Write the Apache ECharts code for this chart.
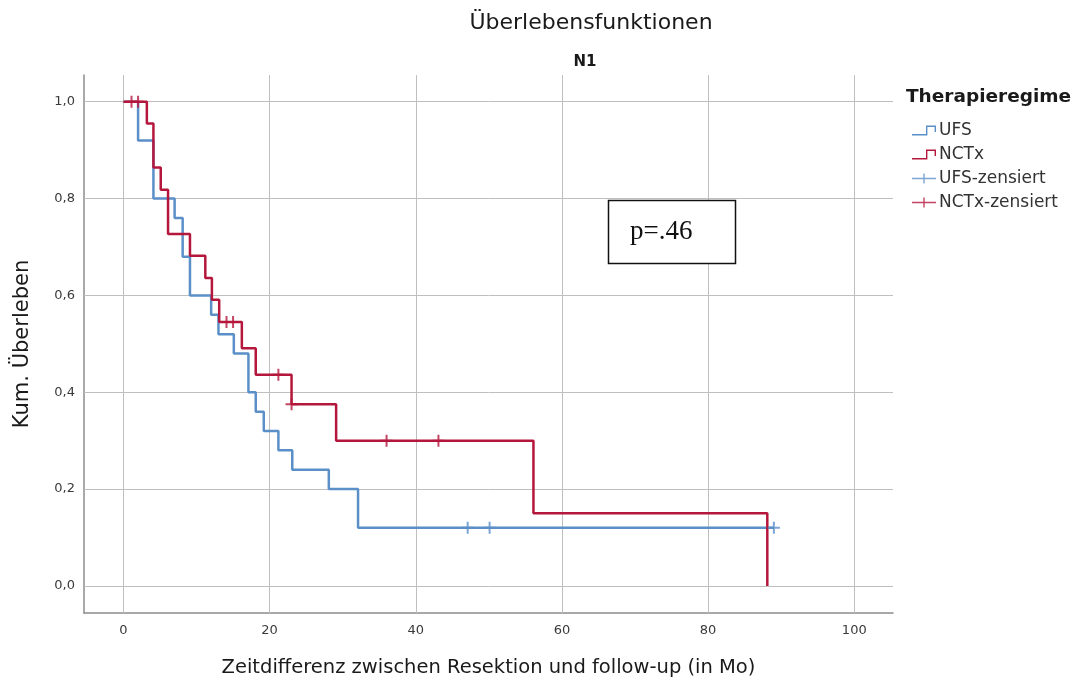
<!DOCTYPE html>
<html>
<head>
<meta charset="utf-8">
<script src="https://cdn.jsdelivr.net/npm/echarts@6/dist/echarts.min.js"></script>
<style>
  html, body { margin: 0; padding: 0; background: #fff; }
  #chart { width: 1078px; height: 684px; }
</style>
</head>
<body>
<div id="chart"></div>
<script>
// Axis ticks
const xTicks = [0, 20, 40, 60, 80, 100];
const yTicks = [0, 0.2, 0.4, 0.6, 0.8, 1.0];

// Kaplan-Meier steps: UFS (event times in months, cumulative survival)
const ufsTimes = [0, 2.0, 4.1, 7.0, 8.1, 9.1, 12.0, 13.0, 15.1, 17.1, 18.1, 19.2, 21.2, 23.1, 28.1, 32.1, 89.0];
const ufsSurv  = [1.0, 0.92, 0.80, 0.76, 0.68, 0.60, 0.56, 0.52, 0.48, 0.40, 0.36, 0.32, 0.28, 0.24, 0.20, 0.12, 0.12];

// Kaplan-Meier steps: NCTx
const nctxTimes = [0, 3.2, 4.1, 5.1, 6.1, 9.1, 11.2, 12.1, 13.1, 16.2, 18.1, 23.0, 29.1, 56.1, 88.1];
const nctxSurv  = [1.0, 0.955, 0.864, 0.818, 0.727, 0.682, 0.636, 0.591, 0.545, 0.491, 0.436, 0.375, 0.30, 0.15, 0.0];

// Censored observations
const ufsCensTimes  = [47.1, 50.1, 89.0];
const ufsCensSurv   = [0.12, 0.12, 0.12];
const nctxCensTimes = [1.1, 2.0, 14.1, 15.0, 21.2, 23.0, 36.0, 43.1];
const nctxCensSurv  = [1.0, 1.0, 0.545, 0.545, 0.436, 0.375, 0.30, 0.30];

const pLabel = 'p=.46';

const zip = (a, b) => a.map((v, i) => [v, b[i]]);

const BLUE = '#5b8fc8';
const RED = '#b5173c';
const GRID = '#bfbfbf';
const AXIS = '#8c8c8c';

// legend glyphs: a small survival step and a censor cross on a line
const stepIcon = 'path://M0,8.4 L14,8.4 L14,0 L24,0 L24,6.5 L22.6,6.5 L22.6,1.5 L15.4,1.5 L15.4,10 L0,10 Z';
const censIcon = 'path://M0,4.3 L11.3,4.3 L11.3,0 L12.7,0 L12.7,4.3 L24,4.3 L24,5.7 L12.7,5.7 L12.7,10 L11.3,10 L11.3,5.7 L0,5.7 Z';
const plusSymbol = 'path://M5,0 L7,0 L7,5 L12,5 L12,7 L7,7 L7,12 L5,12 L5,7 L0,7 L0,5 L5,5 Z';

const chart = echarts.init(document.getElementById('chart'), null, { renderer: 'canvas' });

const option = {
  animation: false,
  backgroundColor: '#fff',
  textStyle: { fontFamily: 'DejaVu Sans' },
  title: [
    { text: 'Überlebensfunktionen', left: 591, top: 12, textAlign: 'center', padding: 0,
      textStyle: { fontSize: 22, fontWeight: 'normal', color: '#1a1a1a', fontFamily: 'DejaVu Sans' } },
    { text: 'N1', left: 585, top: 55, textAlign: 'center', padding: 0,
      textStyle: { fontSize: 15, fontWeight: 'bold', color: '#1a1a1a', fontFamily: 'DejaVu Sans' } },
    { text: 'Therapieregime', left: 906, top: 88, padding: 0,
      textStyle: { fontSize: 18.5, fontWeight: 'bold', color: '#1a1a1a', fontFamily: 'DejaVu Sans' } }
  ],
  legend: {
    orient: 'vertical',
    left: 907,
    top: 117,
    itemWidth: 24,
    itemHeight: 10,
    itemGap: 7,
    selectedMode: false,
    itemStyle: { borderWidth: 0 },
    textStyle: { fontSize: 17, lineHeight: 16, color: '#333', fontFamily: 'DejaVu Sans', padding: [0, 0, 0, -2] },
    data: [
      { name: 'UFS', icon: stepIcon },
      { name: 'NCTx', icon: stepIcon },
      { name: 'UFS-zensiert', icon: censIcon },
      { name: 'NCTx-zensiert', icon: censIcon }
    ]
  },
  grid: { left: 84, top: 75, right: 185, bottom: 71, containLabel: false },
  xAxis: {
    type: 'value',
    min: -5.4,
    max: 105.3,
    axisLine: { show: true, onZero: false, lineStyle: { color: AXIS, width: 1.5 } },
    axisTick: { show: false },
    splitLine: { show: false },
    axisLabel: { customValues: xTicks, fontSize: 13, color: '#3a3a3a', margin: 11 },
    name: 'Zeitdifferenz zwischen Resektion und follow-up (in Mo)',
    nameLocation: 'middle',
    nameGap: 45,
    nameTextStyle: { fontSize: 19.5, color: '#1a1a1a', fontFamily: 'DejaVu Sans' }
  },
  yAxis: {
    type: 'value',
    min: -0.0558,
    max: 1.0551,
    axisLine: { show: true, onZero: false, lineStyle: { color: AXIS, width: 1.5 } },
    axisTick: { show: false },
    splitLine: { show: false },
    axisLabel: {
      customValues: yTicks, fontSize: 13, color: '#3a3a3a', margin: 9,
      formatter: v => v.toFixed(1).replace('.', ',')
    },
    name: 'Kum. Überleben',
    nameLocation: 'middle',
    nameGap: 51,
    nameTextStyle: { fontSize: 21, color: '#1a1a1a', fontFamily: 'DejaVu Sans' }
  },
  series: [
    {
      // reference grid at the tick positions
      type: 'line',
      name: '__grid',
      data: [],
      silent: true,
      markLine: {
        silent: true,
        z: 1,
        symbol: 'none',
        label: { show: false },
        lineStyle: { color: GRID, width: 1, type: 'solid' },
        emphasis: { disabled: true },
        data: [
          ...xTicks.map(v => ({ xAxis: v })),
          ...yTicks.map(v => ({ yAxis: v }))
        ]
      }
    },
    {
      name: 'UFS', type: 'line', step: 'end', showSymbol: false, symbol: 'none',
      color: BLUE, z: 3,
      lineStyle: { color: BLUE, width: 2.5 },
      data: zip(ufsTimes, ufsSurv)
    },
    {
      name: 'NCTx', type: 'line', step: 'end', showSymbol: false, symbol: 'none',
      color: RED, z: 4,
      lineStyle: { color: RED, width: 2.5 },
      data: zip(nctxTimes, nctxSurv)
    },
    {
      name: 'UFS-zensiert', type: 'scatter', symbol: plusSymbol, symbolSize: 12,
      color: BLUE, z: 5, itemStyle: { color: BLUE },
      data: zip(ufsCensTimes, ufsCensSurv)
    },
    {
      name: 'NCTx-zensiert', type: 'scatter', symbol: plusSymbol, symbolSize: 12,
      color: RED, z: 6, itemStyle: { color: RED },
      data: zip(nctxCensTimes, nctxCensSurv)
    }
  ],
  graphic: [
    {
      type: 'rect', z: 100,
      shape: { x: 608.5, y: 200.5, width: 127, height: 63 },
      style: { fill: '#fff', stroke: '#111', lineWidth: 1.5 }
    },
    {
      type: 'text', z: 101, x: 630, y: 232,
      style: { text: pLabel, font: '27px "Liberation Serif"', fill: '#111', verticalAlign: 'middle' }
    }
  ]
};

chart.setOption(option);
</script>
</body>
</html>
